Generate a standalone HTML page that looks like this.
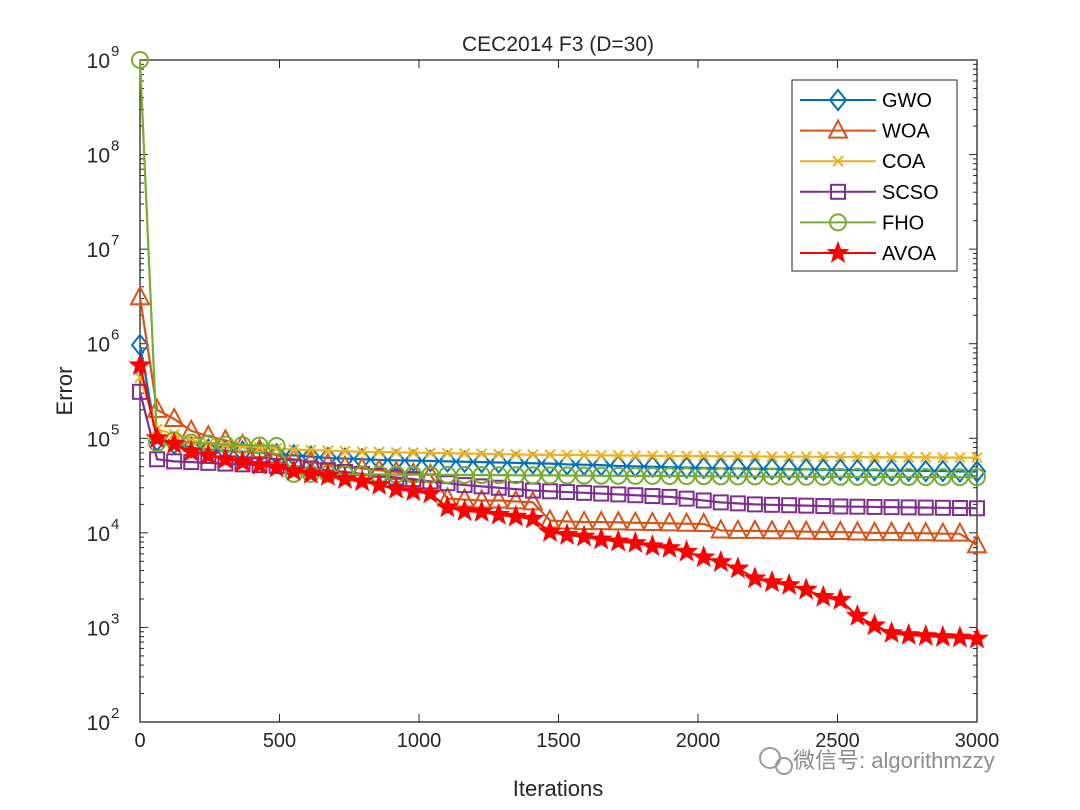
<!DOCTYPE html>
<html><head><meta charset="utf-8">
<style>
body{margin:0;background:#fff;width:1080px;height:810px;overflow:hidden}
svg{display:block;font-family:"Liberation Sans","Noto Sans CJK SC",sans-serif}
</style></head>
<body>
<svg id="chart" width="1080" height="810" xmlns="http://www.w3.org/2000/svg">
<rect x="0" y="0" width="1080" height="810" fill="#fff"/>
<text x="558" y="51" font-size="21" text-anchor="middle" fill="#262626">CEC2014 F3 (D=30)</text>
<text x="558" y="796" font-size="22" text-anchor="middle" fill="#262626">Iterations</text>
<text transform="translate(72,391) rotate(-90)" font-size="22" text-anchor="middle" fill="#262626">Error</text>
<g id="axes"></g>
<g id="series"></g>
<g id="legend"></g>
<g opacity="0.75">
<circle cx="770" cy="758" r="10" fill="none" stroke="#777" stroke-width="2"/>
<circle cx="784" cy="766" r="8" fill="none" stroke="#777" stroke-width="2"/>
<text x="793" y="768" font-size="22" fill="#666">微信号: algorithmzzy</text>
</g>
</svg>
<script>
const xTicks=[0,500,1000,1500,2000,2500,3000];
const yExps=[2,3,4,5,6,7,8,9];
const seriesNames=["GWO","WOA","COA","SCSO","FHO","AVOA"];
const gwoValues=[970000,95000,88000,80000,76000,74000,72000,70000,68000,66000,64000,62000,61000,60000,59000,58500,58000,57500,57000,56500,56000,55500,55000,54500,54000,53000,52500,52000,51000,50500,50000,49500,49000,48500,48000,48000,47500,47500,47000,47000,46500,46500,46000,46000,45500,45500,45000,45000,44500,44500];
const woaValues=[3100000,200000,160000,120000,105000,95000,85000,75000,66000,60000,56000,53000,50000,48000,46000,44000,42000,41000,23000,22500,22000,22000,21500,21000,13500,13200,13000,13000,12900,12800,12700,12600,12500,12400,10600,10500,10500,10400,10400,10300,10200,10200,10100,10000,10000,9900,9900,9800,9800,7400];
const coaValues=[440000,125000,110000,95000,88000,85000,82000,80000,78000,76000,75000,74000,73000,72000,71500,71000,70500,70000,69500,69000,68500,68000,67500,67000,67000,66500,66500,66000,66000,65500,65500,65000,65000,65000,64500,64500,64500,64000,64000,64000,63500,63500,63500,63000,63000,63000,63000,62500,62500,62500];
const scsoValues=[310000,60000,57000,56000,55000,54000,53000,52000,51000,50000,48000,46000,44000,42000,40000,38500,37000,35000,33500,32000,31000,30000,29000,28000,27500,27000,26500,26000,25500,25000,24500,24000,23000,22000,21000,20500,20000,19800,19600,19400,19200,19000,18900,18800,18700,18600,18500,18400,18300,18200];
const fhoValues=[1000000000,89000,95000,90000,88000,86000,85000,84000,83000,42000,42000,41800,41600,41500,41400,41300,41200,41000,41000,40900,40800,40700,40600,40500,40500,40400,40300,40200,40100,40000,40000,39900,39800,39700,39600,39500,39500,39400,39300,39200,39200,39100,39100,39000,39000,39000,38900,38900,38800,38800];
const avoaValues=[590000,100000,87000,72000,66000,60000,56000,52000,49000,45000,42000,40000,37000,35000,32000,29000,27500,26000,18600,17000,16600,15500,14800,14100,10200,9500,9100,8500,8100,7800,7200,6900,6300,5500,4900,4200,3300,3000,2800,2500,2100,1950,1320,1050,870,830,810,790,780,760];
const maxIter=3000;

const L=140,R=977,T=60,B=722;
const xs=v=>L+v/maxIter*(R-L);
const ys=v=>T+(9-Math.log10(v))/7*(B-T);
const NS="http://www.w3.org/2000/svg";
function mk(tag,attrs,parent){const e=document.createElementNS(NS,tag);for(const k in attrs)e.setAttribute(k,attrs[k]);parent.appendChild(e);return e;}
const axes=document.getElementById('axes');
const ink="#262626";
mk('rect',{x:L,y:T,width:R-L,height:B-T,fill:'none',stroke:ink,'stroke-width':1.3},axes);
xTicks.forEach(t=>{
  const x=xs(t);
  mk('line',{x1:x,y1:B,x2:x,y2:B-8,stroke:ink},axes);
  mk('line',{x1:x,y1:T,x2:x,y2:T+8,stroke:ink},axes);
  const tx=mk('text',{x:x,y:B+25,'font-size':20,'text-anchor':'middle',fill:ink},axes);
  tx.textContent=t;
  
  
});
yExps.forEach(e=>{
  const y=ys(Math.pow(10,e));
  mk('line',{x1:L,y1:y,x2:L+8,y2:y,stroke:ink},axes);
  mk('line',{x1:R,y1:y,x2:R-8,y2:y,stroke:ink},axes);
  if(e<9){for(let m=2;m<10;m++){const yy=ys(m*Math.pow(10,e));
    mk('line',{x1:L,y1:yy,x2:L+4,y2:yy,stroke:ink},axes);
    mk('line',{x1:R,y1:yy,x2:R-4,y2:yy,stroke:ink},axes);}}
  const tx=mk('text',{x:L-30,y:y+8,'font-size':21,'text-anchor':'end',fill:ink},axes);
  tx.textContent='10';
  
  
  const sp=mk('text',{x:L-29,y:y-4,'font-size':15,fill:ink},axes);
  sp.textContent=e;
});
const colors=["#0072BD","#D95319","#EDB120","#7E2F8E","#77AC30","#FF0000"];
const data=[gwoValues,woaValues,coaValues,scsoValues,fhoValues,avoaValues];
function marker(type,x,y,c,g){
  if(type===0) mk('polygon',{points:`${x},${y-10} ${x+8},${y} ${x},${y+10} ${x-8},${y}`,fill:'none',stroke:c,'stroke-width':2},g);
  else if(type===1) mk('polygon',{points:`${x},${y-10} ${x+9},${y+7} ${x-9},${y+7}`,fill:'none',stroke:c,'stroke-width':2},g);
  else if(type===2){mk('path',{d:`M${x-5},${y-5}L${x+5},${y+5}M${x-5},${y+5}L${x+5},${y-5}`,stroke:c,'stroke-width':2},g);}
  else if(type===3) mk('rect',{x:x-7,y:y-7,width:14,height:14,fill:'none',stroke:c,'stroke-width':2},g);
  else if(type===4) mk('circle',{cx:x,cy:y,r:8,fill:'none',stroke:c,'stroke-width':2},g);
  else {let p=[];for(let i=0;i<10;i++){const r=i%2?4.2:10;const a=-Math.PI/2+i*Math.PI/5;p.push((x+r*Math.cos(a)).toFixed(1)+','+(y+r*Math.sin(a)).toFixed(1));}
    mk('polygon',{points:p.join(' '),fill:c,stroke:c,'stroke-width':1.5},g);}
}
const sg=document.getElementById('series');
data.forEach((arr,si)=>{
  const g=mk('g',{},sg);
  
  
  const n=arr.length;
  const pts=arr.map((v,i)=>[xs(i*maxIter/(n-1)),ys(v)]);
  mk('polyline',{points:pts.map(p=>p.join(',')).join(' '),fill:'none',stroke:colors[si],'stroke-width':2.2},g);
  pts.forEach(p=>marker(si,p[0],p[1],colors[si],g));
});
const lg=document.getElementById('legend');
mk('rect',{x:792,y:80,width:165,height:191,fill:'#fff',stroke:ink},lg);
seriesNames.forEach((nm,i)=>{
  const y=100+i*30.6;
  const g=mk('g',{},lg);
  
  
  mk('line',{x1:800,y1:y,x2:876,y2:y,stroke:colors[i],'stroke-width':2},g);
  marker(i,838,y,colors[i],g);
  const t=mk('text',{x:882,y:y+7,'font-size':20,fill:'#000'},g);
  t.textContent=nm;
});
</script>
</body></html>
